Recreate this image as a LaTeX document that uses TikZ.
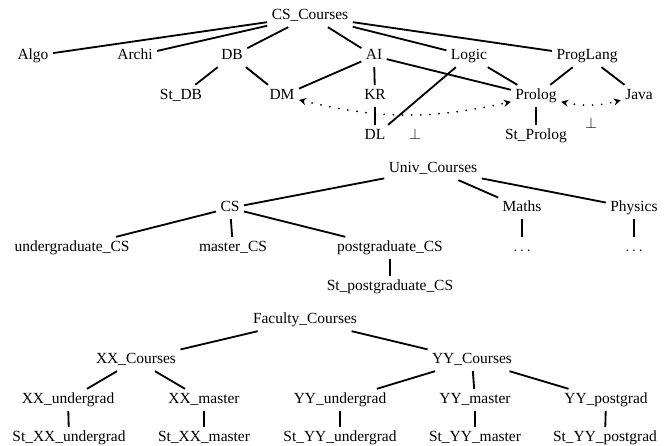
\documentclass[tikz,border=0pt]{standalone}
\usepackage{fontspec}
\setmainfont{Liberation Serif}
\newfontfamily\coursefont{Liberation Serif}
\usetikzlibrary{arrows.meta}

\begin{document}
\begin{tikzpicture}[
    every node/.style={font=\coursefont\fontsize{11}{13}\selectfont, text height=7.5pt, text depth=2pt, inner sep=3pt},
    link/.style={line width=1.3pt},
    rel/.style={line width=1.4pt, line cap=round, dash pattern=on 0pt off 6.5pt,
      {Stealth[length=5pt,width=5pt]}-{Stealth[length=5pt,width=5pt]}, bend right=13}
  ]
    \useasboundingbox (0,0) rectangle (16.7,-11.15);

    \node (cs) at (7.75,-0.4) {CS\_Courses};
    \node (algo) at (0.825,-1.4) {Algo};
    \node (archi) at (3.375,-1.4) {Archi};
    \node (db) at (5.8,-1.4) {DB};
    \node (ai) at (9.35,-1.4) {AI};
    \node (logic) at (11.725,-1.4) {Logic};
    \node (proglang) at (14.675,-1.4) {ProgLang};
    \node (stdb) at (4.525,-2.4) {St\_DB};
    \node (dm) at (7.05,-2.4) {DM};
    \node (kr) at (9.375,-2.4) {KR};
    \node (prolog) at (13.4,-2.4) {Prolog};
    \node (java) at (15.975,-2.4) {Java};
    \node (dl) at (9.375,-3.4) {DL};
    \node (bota) at (10.375,-3.4) {$\perp$};
    \node (stprolog) at (13.4,-3.4) {St\_Prolog};
    \node (botb) at (14.775,-3.125) {$\perp$};

    \draw[link] (cs) -- (algo);
    \draw[link] (cs) -- (archi);
    \draw[link] (cs) -- (db);
    \draw[link] (cs) -- (ai);
    \draw[link] (cs) -- (logic);
    \draw[link] (cs) -- (proglang);
    \draw[link] (db) -- (stdb);
    \draw[link] (db) -- (dm);
    \draw[link] (ai) -- (dm);
    \draw[link] (ai) -- (kr);
    \draw[link] (ai) -- (prolog);
    \draw[link] (logic) -- (prolog);
    \draw[link] (logic) -- (dl);
    \draw[link] (kr) -- (dl);
    \draw[link] (proglang) -- (prolog);
    \draw[link] (proglang) -- (java);
    \draw[link] (prolog) -- (stprolog);
    \draw[rel] (dm) to (prolog);
    \draw[rel] (prolog) to (java);

    \node (univ) at (10.825,-4.225) {Univ\_Courses};
    \node (cs2) at (5.75,-5.2) {CS};
    \node (maths) at (13.05,-5.2) {Maths};
    \node (physics) at (15.85,-5.2) {Physics};
    \node (ugcs) at (1.8,-6.2) {undergraduate\_CS};
    \node (mcs) at (5.825,-6.2) {master\_CS};
    \node (pgcs) at (9.75,-6.2) {postgraduate\_CS};
    \node (dotsa) at (13.05,-6.2) {$\ldots$};
    \node (dotsb) at (15.85,-6.2) {$\ldots$};
    \node (stpgcs) at (9.75,-7.175) {St\_postgraduate\_CS};

    \draw[link] (univ) -- (cs2);
    \draw[link] (univ) -- (maths);
    \draw[link] (univ) -- (physics);
    \draw[link] (cs2) -- (ugcs);
    \draw[link] (cs2) -- (mcs);
    \draw[link] (cs2) -- (pgcs);
    \draw[link] (maths) -- (dotsa);
    \draw[link] (physics) -- (dotsb);
    \draw[link] (pgcs) -- (stpgcs);

    \node (fac) at (7.625,-8.0) {Faculty\_Courses};
    \node (xx) at (3.4,-9.0) {XX\_Courses};
    \node (yy) at (11.8,-9.0) {YY\_Courses};
    \node (xxu) at (1.7,-10.0) {XX\_undergrad};
    \node (xxm) at (5.1,-10.0) {XX\_master};
    \node (yyu) at (8.5,-10.0) {YY\_undergrad};
    \node (yym) at (11.875,-10.0) {YY\_master};
    \node (yyp) at (15.15,-10.0) {YY\_postgrad};
    \node (stxxu) at (1.725,-10.95) {St\_XX\_undergrad};
    \node (stxxm) at (5.1,-10.95) {St\_XX\_master};
    \node (styyu) at (8.5,-10.95) {St\_YY\_undergrad};
    \node (styym) at (11.875,-10.95) {St\_YY\_master};
    \node (styyp) at (15.125,-10.95) {St\_YY\_postgrad};

    \draw[link] (fac) -- (xx);
    \draw[link] (fac) -- (yy);
    \draw[link] (xx) -- (xxu);
    \draw[link] (xx) -- (xxm);
    \draw[link] (yy) -- (yyu);
    \draw[link] (yy) -- (yym);
    \draw[link] (yy) -- (yyp);
    \draw[link] (xxu) -- (stxxu);
    \draw[link] (xxm) -- (stxxm);
    \draw[link] (yyu) -- (styyu);
    \draw[link] (yym) -- (styym);
    \draw[link] (yyp) -- (styyp);
  \end{tikzpicture}
\end{document}
